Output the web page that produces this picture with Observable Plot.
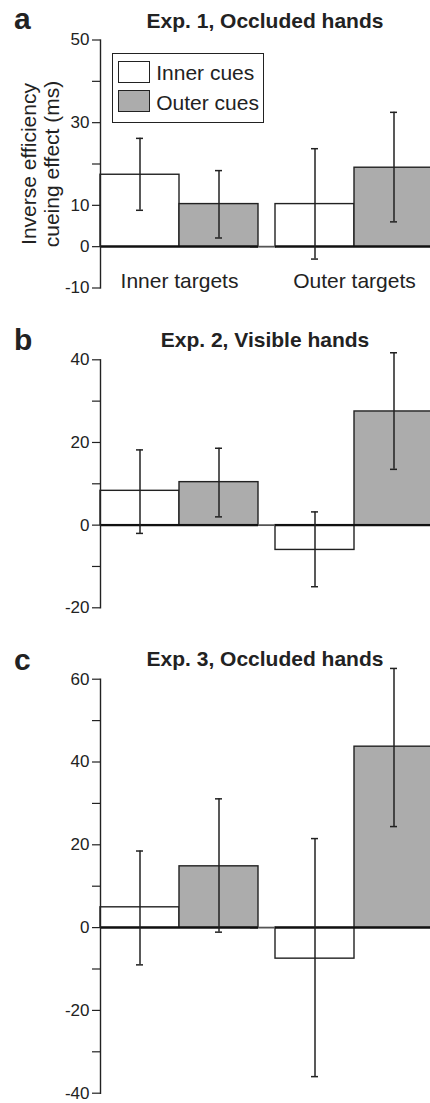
<!DOCTYPE html>
<html><head><meta charset="utf-8">
<script src="https://cdn.jsdelivr.net/npm/d3@7"></script>
<script src="https://cdn.jsdelivr.net/npm/@observablehq/plot@0.6"></script>
<style>
body{margin:0;background:#fff;font-family:"Liberation Sans",Arial,Helvetica,sans-serif;color:#222}
#root{position:relative;width:430px;height:1103px;overflow:hidden}
.abs{position:absolute;white-space:nowrap}
.letter{font-weight:bold;font-size:30px;line-height:30px}
.title{font-weight:bold;font-size:21px;line-height:21px;width:300px;text-align:center;left:115px}
svg{position:absolute;left:0;overflow:visible}
</style></head><body><div id="root"></div>
<script>
// ---- data ----
const targets = ["Inner targets", "Outer targets"];
const cues = ["Inner cues", "Outer cues"];
const cueFill = ["#ffffff", "#acacac"];
const letters = ["a", "b", "c"];
const titles = ["Exp. 1, Occluded hands", "Exp. 2, Visible hands", "Exp. 3, Occluded hands"];
const yLabel = ["Inverse efficiency", "cueing effect (ms)"];
// order: (Inner targets: Inner cues, Outer cues), (Outer targets: Inner cues, Outer cues)
const exp1Mean = [17.4, 10.3, 10.3, 19.1];
const exp1Lo   = [8.8, 2.1, -3.0, 6.0];
const exp1Hi   = [26.2, 18.4, 23.7, 32.5];
const exp2Mean = [8.3, 10.4, -6.0, 27.5];
const exp2Lo   = [-2.0, 2.0, -14.9, 13.5];
const exp2Hi   = [18.2, 18.6, 3.2, 41.7];
const exp3Mean = [4.9, 14.8, -7.5, 43.7];
const exp3Lo   = [-9.0, -1.1, -36.0, 24.4];
const exp3Hi   = [18.5, 31.1, 21.5, 62.6];
const exp1Ticks = [-10, 0, 10, 30, 50], exp1Minor = [20, 40];
const exp2Ticks = [-20, 0, 20, 40], exp2Minor = [-10, 10, 30];
const exp3Ticks = [-40, -20, 0, 20, 40, 60], exp3Minor = [-30, -10, 10, 30, 50];

const ink = "#222";
const root = document.getElementById("root");

const panels = [
  {mean: exp1Mean, lo: exp1Lo, hi: exp1Hi, domain: [-10, 50], major: exp1Ticks, minor: exp1Minor,
   top: 0, height: 300, mt: 39.5, mb: 12.5, xlabels: true, titleTop: 9.5, letterTop: 3.6},
  {mean: exp2Mean, lo: exp2Lo, hi: exp2Hi, domain: [-20, 40], major: exp2Ticks, minor: exp2Minor,
   top: 300, height: 320, mt: 59.3, mb: 12.7, xlabels: false, titleTop: 328.5, letterTop: 324.6},
  {mean: exp3Mean, lo: exp3Lo, hi: exp3Hi, domain: [-40, 60], major: exp3Ticks, minor: exp3Minor,
   top: 620, height: 483, mt: 58.7, mb: 10.3, xlabels: false, titleTop: 647.5, letterTop: 644.6}
];

panels.forEach((p, k) => {
  const data = targets.flatMap((t, i) => cues.map((c, j) => ({
    target: t, cue: c, mean: p.mean[i * 2 + j], lo: p.lo[i * 2 + j], hi: p.hi[i * 2 + j]
  })));
  const marks = [
    Plot.barY(data, {fx: "target", x: "cue", y: "mean", fill: "cue", stroke: ink, strokeWidth: 1.4}),
    Plot.ruleY([{target: targets[0]}], {fx: "target", y: () => 0, insetLeft: 150, insetRight: -18, stroke: "#555", strokeWidth: 1.8}),
    Plot.ruleY([{target: targets[0]}], {fx: "target", y: () => 0, stroke: "#111", strokeWidth: 2.2}),
    Plot.ruleY([{target: targets[1]}], {fx: "target", y: () => 0, stroke: "#111", strokeWidth: 2.2}),
    Plot.frame({anchor: "left", facetAnchor: "left", stroke: ink, strokeWidth: 1.4}),
    Plot.axisY(p.major, {tickSize: 8, tickPadding: 3, fontSize: 17, fill: ink, stroke: ink, strokeWidth: 1.2,
      tickFormat: d => String(d), label: null}),
    Plot.axisY(p.minor, {tickSize: 8, stroke: ink, strokeWidth: 1.2, tickFormat: () => "", label: null}),
    Plot.ruleX(data, {fx: "target", x: "cue", y1: "lo", y2: "hi", stroke: ink, strokeWidth: 1.5}),
    Plot.tickY(data, {fx: "target", x: "cue", y: "lo", insetLeft: 36, insetRight: 36, stroke: ink, strokeWidth: 1.5}),
    Plot.tickY(data, {fx: "target", x: "cue", y: "hi", insetLeft: 36, insetRight: 36, stroke: ink, strokeWidth: 1.5})
  ];
  if (p.xlabels) marks.push(Plot.axisFx({anchor: "bottom", tickSize: 0, fontSize: 21, fill: ink, dy: -24, label: null}));
  const svg = Plot.plot({
    width: 430, height: p.height,
    marginLeft: 100, marginRight: -3, marginTop: p.mt, marginBottom: p.mb,
    fx: {domain: targets, paddingInner: 0.1, paddingOuter: 0, label: null, ...(p.xlabels ? {} : {axis: null})},
    x: {domain: cues, padding: 0, axis: null},
    y: {domain: p.domain, label: null},
    color: {domain: cues, range: cueFill},
    style: {fontFamily: "Liberation Sans, Arial, sans-serif", fontSize: "17px", color: ink, background: "transparent", overflow: "visible"},
    marks
  });
  svg.style.top = p.top + "px";
  root.appendChild(svg);

  const L = document.createElement("div");
  L.className = "abs letter"; L.textContent = letters[k];
  L.style.left = "14px"; L.style.top = p.letterTop + "px";
  root.appendChild(L);
  const T = document.createElement("div");
  T.className = "abs title"; T.textContent = titles[k];
  T.style.top = p.titleTop + "px";
  root.appendChild(T);
});

// y-axis label (panel a)
const yl = document.createElement("div");
yl.className = "abs";
Object.assign(yl.style, {left: "-70px", top: "141px", width: "220px", height: "46px", fontSize: "21px",
  lineHeight: "23px", textAlign: "center", transform: "rotate(-90deg)", whiteSpace: "normal"});
yl.innerHTML = yLabel.join("<br>");
root.appendChild(yl);

// legend (panel a)
const lg = document.createElement("div");
lg.className = "abs";
Object.assign(lg.style, {left: "111.7px", top: "52.7px", width: "152.3px", height: "70px", boxSizing: "border-box",
  border: "1.5px solid " + ink, background: "#fff"});
cues.forEach((c, i) => {
  const sw = document.createElement("div");
  sw.className = "abs";
  Object.assign(sw.style, {left: "5px", top: (7 + i * 29.7) + "px", width: "32.7px", height: "22px",
    boxSizing: "border-box", border: "1.5px solid " + ink, background: cueFill[i]});
  lg.appendChild(sw);
  const tx = document.createElement("div");
  tx.className = "abs";
  Object.assign(tx.style, {left: "43.5px", top: (8.2 + i * 30) + "px", fontSize: "21px", lineHeight: "22px"});
  tx.textContent = c;
  lg.appendChild(tx);
});
root.appendChild(lg);
</script>
</body></html>
